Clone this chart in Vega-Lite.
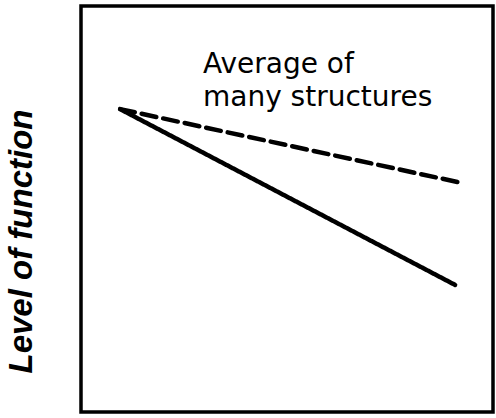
{
  "$schema": "https://vega.github.io/schema/vega-lite/v6.json",
  "width": 412,
  "height": 406,
  "autosize": "none",
  "padding": {"left": 81, "top": 6, "right": 3, "bottom": 6},
  "background": "white",
  "config": {
    "view": {"stroke": "black", "strokeWidth": 3.5},
    "axis": {"grid": false, "ticks": false, "labels": false, "domain": false}
  },
  "datasets": {
    "lines": [
      {"series": "individual", "x": 9.5, "y": 74.6},
      {"series": "individual", "x": 90.8, "y": 31.3},
      {"series": "average", "x": 9.5, "y": 74.6},
      {"series": "average", "x": 92.5, "y": 56.4}
    ],
    "notes": [
      {"label": ["Average of", "many structures"], "x": 29.6, "y": 83.5}
    ]
  },
  "layer": [
    {
      "data": {"name": "lines"},
      "mark": {"type": "line", "color": "black", "strokeWidth": 4.5, "strokeCap": "round"},
      "encoding": {
        "x": {"field": "x", "type": "quantitative", "scale": {"domain": [0, 100]}, "axis": null},
        "y": {"field": "y", "type": "quantitative", "scale": {"domain": [0, 100]},
          "axis": {"title": "Level of function", "titleFont": "Liberation Sans", "titleFontSize": 33, "titleFontWeight": "bold", "titleFontStyle": "italic", "titleColor": "black", "titleX": -43, "titleY": 235, "titleAngle": -90}},
        "detail": {"field": "series", "type": "nominal"},
        "strokeDash": {"field": "series", "type": "nominal", "scale": {"domain": ["individual", "average"], "range": [[1, 0], [15, 7]]}, "legend": null}
      }
    },
    {
      "data": {"name": "notes"},
      "mark": {"type": "text", "align": "left", "baseline": "alphabetic", "font": "DejaVu Sans", "fontSize": 28, "lineHeight": 33, "color": "black"},
      "encoding": {
        "x": {"field": "x", "type": "quantitative"},
        "y": {"field": "y", "type": "quantitative"},
        "text": {"field": "label"}
      }
    }
  ]
}
